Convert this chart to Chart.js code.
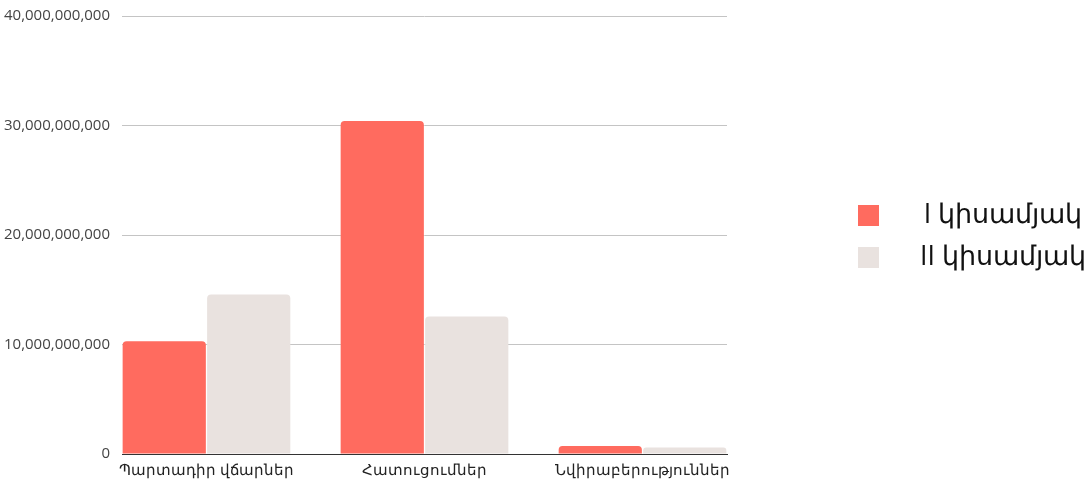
<!DOCTYPE html>
<html>
<head>
<meta charset="utf-8">
<script src="https://cdn.jsdelivr.net/npm/chart.js@4"></script>
<style>
  html, body { margin: 0; padding: 0; background: #fff; }
  .wrap { position: relative; width: 1086px; height: 481px; overflow: hidden; }
  #legend { position: absolute; left: 858px; top: 199px; width: 228px; font-family: 'Open Sans', 'Noto Sans', sans-serif; }
  .item { position: relative; height: 42px; }
  .box { position: absolute; left: 0; top: 6px; width: 21px; height: 21px; }
  .label { position: absolute; left: 58px; right: -4px; top: -5px; text-align: center; font-size: 26.8px; color: #111; white-space: nowrap; }
</style>
</head>
<body>
<div class="wrap">
  <canvas id="chart" width="1086" height="481"></canvas>
  <div id="legend"></div>
</div>
<script>
// data
const categories = ["Պարտադիր վճարներ", "Հատուցումներ", "Նվիրաբերություններ"];
const seriesNames = ["I կիսամյակ", "II կիսամյակ"];
const firstHalf = [10300000000, 30400000000, 740000000];
const secondHalf = [14570000000, 12560000000, 590000000];
const yTicks = [0, 10000000000, 20000000000, 30000000000, 40000000000];

const colors = ["#ff6b5f", "#e9e2df"];

function points(values) {
  return values.map((v, i) => ({ x: i, y: v }));
}

const ctx = document.getElementById("chart").getContext("2d");
const chart = new Chart(ctx, {
  type: "bar",
  data: {
    datasets: [
      { label: seriesNames[0], data: points(firstHalf), backgroundColor: colors[0] },
      { label: seriesNames[1], data: points(secondHalf), backgroundColor: colors[1] }
    ]
  },
  options: {
    responsive: false,
    animation: false,
    layout: { padding: { top: 0, right: 359, left: 0, bottom: 0 } },
    datasets: {
      bar: { categoryPercentage: 0.775, barPercentage: 0.985, borderRadius: 4 }
    },
    plugins: {
      legend: { display: false },
      tooltip: { enabled: false }
    },
    scales: {
      x: {
        type: "linear",
        offset: false,
        min: -0.3875,
        max: 2.3875,
        afterBuildTicks: (scale) => {
          scale.ticks = categories.map((c, i) => ({ value: i }));
        },
        afterFit: (scale) => { scale.height = 27; },
        grid: { display: false, drawTicks: false },
        border: { display: true, color: "#333", width: 1 },
        ticks: {
          callback: (value) => categories[value],
          color: "#222",
          padding: 8,
          maxRotation: 0,
          autoSkip: false,
          font: { family: "'Open Sans', 'Noto Sans', sans-serif", size: 14.5 }
        }
      },
      y: {
        min: 0,
        max: 40000000000,
        afterBuildTicks: (scale) => {
          scale.ticks = yTicks.map((v) => ({ value: v }));
        },
        afterFit: (scale) => {
          scale.width = 122;
          scale.paddingTop = 16;
        },
        grid: { color: "#c4c4c4", drawTicks: false },
        border: { display: false },
        ticks: {
          callback: (value) => value.toLocaleString("en-US"),
          color: "#444",
          padding: 12,
          font: { family: "'Open Sans', 'Noto Sans', sans-serif", size: 15 }
        }
      }
    }
  }
});

// legend built from the chart's datasets
const legend = document.getElementById("legend");
chart.data.datasets.forEach((ds) => {
  const item = document.createElement("div");
  item.className = "item";
  item.innerHTML = `<div class="box" style="background:${ds.backgroundColor}"></div><span class="label">${ds.label}</span>`;
  legend.appendChild(item);
});
</script>
</body>
</html>
